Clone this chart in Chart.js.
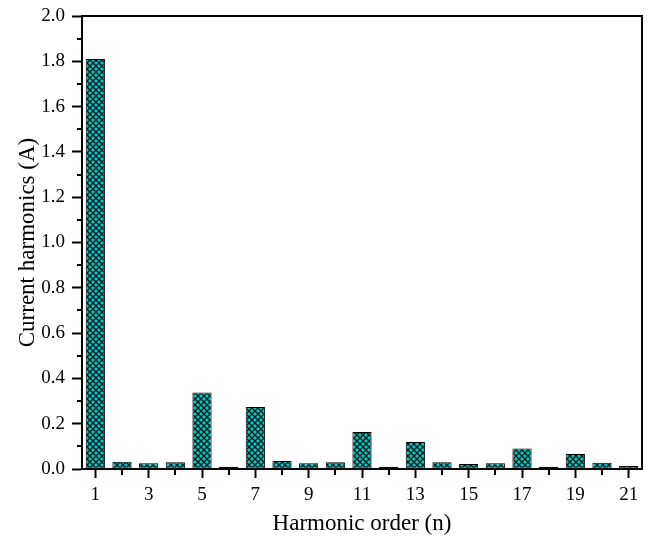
<!DOCTYPE html>
<html>
<head>
<meta charset="utf-8">
<script src="https://cdn.jsdelivr.net/npm/chart.js@4/dist/chart.umd.min.js"></script>
<style>
  html, body { margin: 0; padding: 0; background: #fff; }
  #wrap { width: 650px; height: 541px; }
</style>
</head>
<body>
<div id="wrap"><canvas id="c" width="650" height="541"></canvas></div>
<script>
// Harmonic orders and measured current amplitudes (A)
const harmonicOrders = [1,2,3,4,5,6,7,8,9,10,11,12,13,14,15,16,17,18,19,20,21];
const currentHarmonics = [1.81,0.032,0.025,0.03,0.338,0.01,0.274,0.035,0.025,0.03,0.163,0.01,0.119,0.03,0.022,0.025,0.09,0.01,0.066,0.028,0.013];
const yTickValues = [0,0.2,0.4,0.6,0.8,1.0,1.2,1.4,1.6,1.8,2.0];

const serif = "'Liberation Serif', 'DejaVu Serif', serif";

// Cross-hatched teal fill for the bars
function hatchPattern() {
  const s = 6;
  const p = document.createElement('canvas');
  p.width = s; p.height = s;
  const g = p.getContext('2d');
  g.fillStyle = 'rgb(0,204,198)';
  g.fillRect(0, 0, s, s);
  g.strokeStyle = '#0a1a1a';
  g.lineWidth = 1.4;
  g.beginPath();
  g.moveTo(-1, -1); g.lineTo(s + 1, s + 1);
  g.moveTo(s + 1, -1); g.lineTo(-1, s + 1);
  g.stroke();
  return g.createPattern(p, 'repeat');
}

// Minor ticks and the closing top/right frame lines
const framePlugin = {
  id: 'frame',
  afterDraw(chart) {
    const ctx = chart.ctx;
    const a = chart.chartArea;
    const x = chart.scales.x, y = chart.scales.y;
    ctx.save();
    ctx.strokeStyle = '#000';
    ctx.lineWidth = 2;
    ctx.beginPath();
    ctx.moveTo(a.left - 1, a.top);
    ctx.lineTo(a.right, a.top);
    ctx.lineTo(a.right, a.bottom + 1);
    ctx.stroke();
    ctx.beginPath();
    // minor x ticks at even orders
    harmonicOrders.forEach((n, i) => {
      if (n % 2 === 0) {
        const px = Math.round(x.getPixelForValue(i));
        ctx.moveTo(px, a.bottom);
        ctx.lineTo(px, a.bottom + 6);
      }
    });
    // minor y ticks halfway between labelled values
    for (let i = 0; i < yTickValues.length - 1; i++) {
      const v = (yTickValues[i] + yTickValues[i + 1]) / 2;
      const py = Math.round(y.getPixelForValue(v));
      ctx.moveTo(a.left, py);
      ctx.lineTo(a.left - 5, py);
    }
    ctx.stroke();
    ctx.restore();
  }
};

new Chart(document.getElementById('c'), {
  type: 'bar',
  data: {
    labels: harmonicOrders.map(String),
    datasets: [{
      data: currentHarmonics,
      backgroundColor: hatchPattern(),
      borderColor: '#000',
      borderWidth: 1,
      borderSkipped: false,
      categoryPercentage: 1.0,
      barPercentage: 0.72
    }]
  },
  options: {
    responsive: false,
    animation: false,
    events: [],
    layout: { padding: { left: 0, right: 8, top: 16, bottom: 0 } },
    plugins: { legend: { display: false }, tooltip: { enabled: false } },
    scales: {
      x: {
        offset: true,
        afterFit(s) { s.height = 72; s.paddingLeft = 0; s.paddingRight = 0; },
        grid: {
          offset: false,
          drawOnChartArea: false,
          drawTicks: true,
          tickLength: 9,
          tickWidth: 2,
          tickColor: ctx => (harmonicOrders[ctx.index] % 2 === 1 ? '#000' : 'rgba(0,0,0,0)')
        },
        border: { display: true, color: '#000', width: 2 },
        ticks: {
          color: '#000',
          autoSkip: false,
          maxRotation: 0,
          padding: 6,
          font: { family: serif, size: 19 },
          callback(v, i) { return harmonicOrders[i] % 2 === 1 ? String(harmonicOrders[i]) : ''; }
        },
        title: {
          display: true,
          text: 'Harmonic order (n)',
          color: '#000',
          font: { family: serif, size: 23 },
          padding: { top: 4, bottom: 3 }
        }
      },
      y: {
        min: 0,
        max: 2,
        afterFit(s) { s.width = 82; s.paddingTop = 0; s.paddingBottom = 0; },
        afterBuildTicks(s) { s.ticks = yTickValues.map(v => ({ value: v })); },
        grid: {
          drawOnChartArea: false,
          drawTicks: true,
          tickLength: 10,
          tickWidth: 2,
          tickColor: '#000'
        },
        border: { display: true, color: '#000', width: 2 },
        ticks: {
          color: '#000',
          padding: 7,
          font: { family: serif, size: 19 },
          callback(v) { return Number(v).toFixed(1); }
        },
        title: {
          display: true,
          text: 'Current harmonics (A)',
          color: '#000',
          font: { family: serif, size: 23 },
          padding: { top: 14, bottom: 2 }
        }
      }
    }
  },
  plugins: [framePlugin]
});
</script>
</body>
</html>
